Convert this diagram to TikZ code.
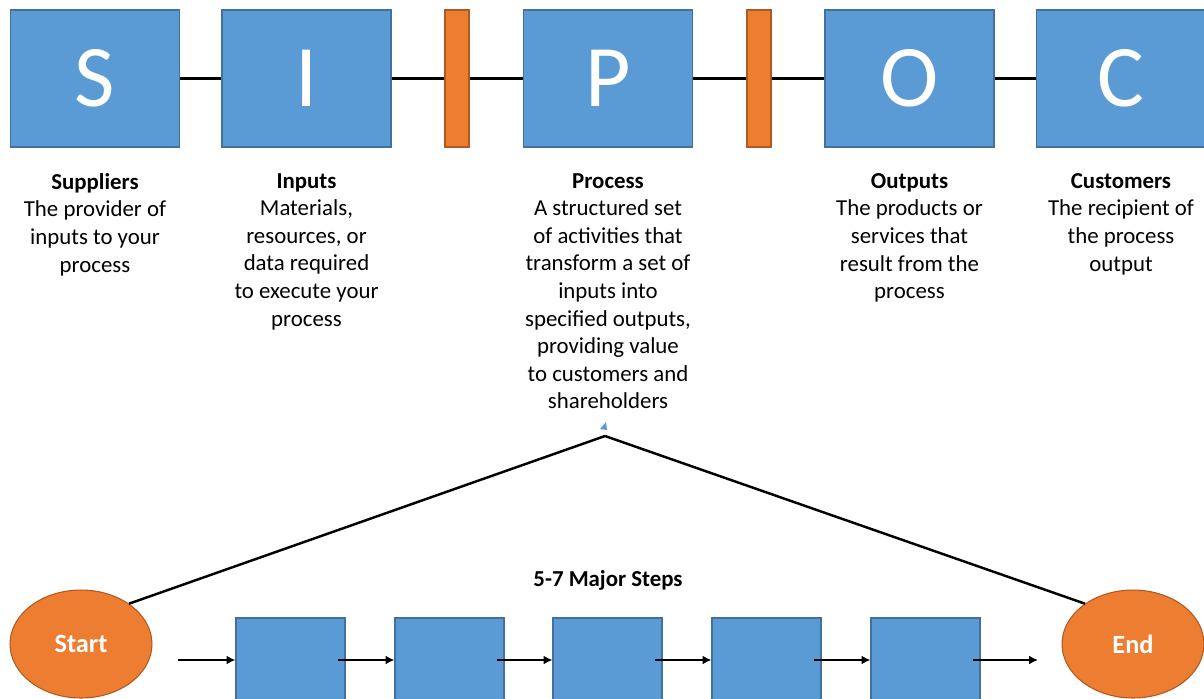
\documentclass[tikz,border=0pt]{standalone}
\usepackage{fontspec}
\setmainfont{Carlito}
\usetikzlibrary{shapes.geometric,arrows.meta}
\definecolor{sipocblue}{HTML}{5B9BD5}
\definecolor{sipocedge}{HTML}{41719C}
\definecolor{sipocorange}{HTML}{ED7D31}
\definecolor{orangeedge}{HTML}{AE5A21}

\tikzset{
  letterbox/.style={draw=sipocedge, fill=sipocblue, line width=0.6pt, inner sep=0pt,
    minimum width=3.38cm, minimum height=2.74cm, text=white,
    font=\fontsize{50}{50}\selectfont},
  gatebar/.style={draw=orangeedge, fill=sipocorange, line width=0.6pt, inner sep=0pt,
    minimum width=0.48cm, minimum height=2.74cm},
  desc/.style={anchor=north, align=center, inner sep=0pt,
    font=\fontsize{13}{15.7}\selectfont},
  stepbox/.style={draw=sipocedge, fill=sipocblue, line width=0.6pt, inner sep=0pt,
    minimum width=2.18cm, minimum height=1.68cm},
  terminal/.style={ellipse, draw=orangeedge, fill=sipocorange, line width=0.6pt,
    minimum width=2.84cm, minimum height=2.16cm, text=white,
    font=\fontsize{15}{15}\selectfont\bfseries},
  link/.style={line width=1.4pt},
  flow/.style={line width=1.4pt, -{Latex[length=5pt,width=5pt]}}
}

\begin{document}
\begin{tikzpicture}[x=0.02cm, y=-0.02cm]
    \clip (0,0) rectangle (1204,698);

    % Letter boxes and gates
    \node[letterbox] (S) at (95,78.5) {\raisebox{-3pt}{S}};
    \node[letterbox] (I) at (306.5,78.5) {\raisebox{-3pt}{I}};
    \node[gatebar] (gateA) at (457,78.5) {};
    \node[letterbox] (P) at (608,78.5) {\raisebox{-3pt}{P}};
    \node[gatebar] (gateB) at (759,78.5) {};
    \node[letterbox] (O) at (909.5,78.5) {\raisebox{-3pt}{O}};
    \node[letterbox] (C) at (1121,78.5) {\raisebox{-3pt}{C}};

    % Links between the boxes
    \draw[link] (S) -- (I);
    \draw[link] (I) -- (gateA);
    \draw[link] (gateA) -- (P);
    \draw[link] (P) -- (gateB);
    \draw[link] (gateB) -- (O);
    \draw[link] (O) -- (C);

    % Descriptions
    \node[desc] (suppliers) at (95,173) {\textbf{Suppliers}\\The provider of\\inputs to your\\process};
    \node[desc] (inputs) at (306.5,173) {\textbf{Inputs}\\Materials,\\resources, or\\data required\\to execute your\\process};
    \node[desc] (process) at (608,173) {\textbf{Process}\\A structured set\\of activities that\\transform a set of\\inputs into\\specified outputs,\\providing value\\to customers and\\shareholders};
    \node[desc] (outputs) at (909.5,173) {\textbf{Outputs}\\The products or\\services that\\result from the\\process};
    \node[desc] (customers) at (1121,173) {\textbf{Customers}\\The recipient of\\the process\\output};

    % Zoom from the process into its steps
    \coordinate (apex) at (605,436);
    \fill[sipocblue] (600,429) -- (606,422) -- (607,430) -- cycle;

    \node[terminal] (start) at (81,644) {Start};
    \node[terminal] (end) at (1133,644) {End};
    \draw[link] (start.40) -- (apex);
    \draw[link] (apex) -- (end.140);

    \node[font=\fontsize{13}{15}\selectfont\bfseries] (steps) at (608,580) {5-7 Major Steps};

    % Major steps
    \node[stepbox] (stepA) at (290.5,660) {};
    \node[stepbox] (stepB) at (449.5,660) {};
    \node[stepbox] (stepC) at (607.5,660) {};
    \node[stepbox] (stepD) at (766.5,660) {};
    \node[stepbox] (stepE) at (925.5,660) {};

    \coordinate (flowin) at (178,660);
    \coordinate (flowout) at (1038,660);
    \draw[flow] (flowin) -- (stepA);
    \draw[flow] ([xshift=-0.16cm]stepA.east) -- (stepB);
    \draw[flow] ([xshift=-0.16cm]stepB.east) -- (stepC);
    \draw[flow] ([xshift=-0.16cm]stepC.east) -- (stepD);
    \draw[flow] ([xshift=-0.16cm]stepD.east) -- (stepE);
    \draw[flow] ([xshift=-0.16cm]stepE.east) -- (flowout);
\end{tikzpicture}
\end{document}
